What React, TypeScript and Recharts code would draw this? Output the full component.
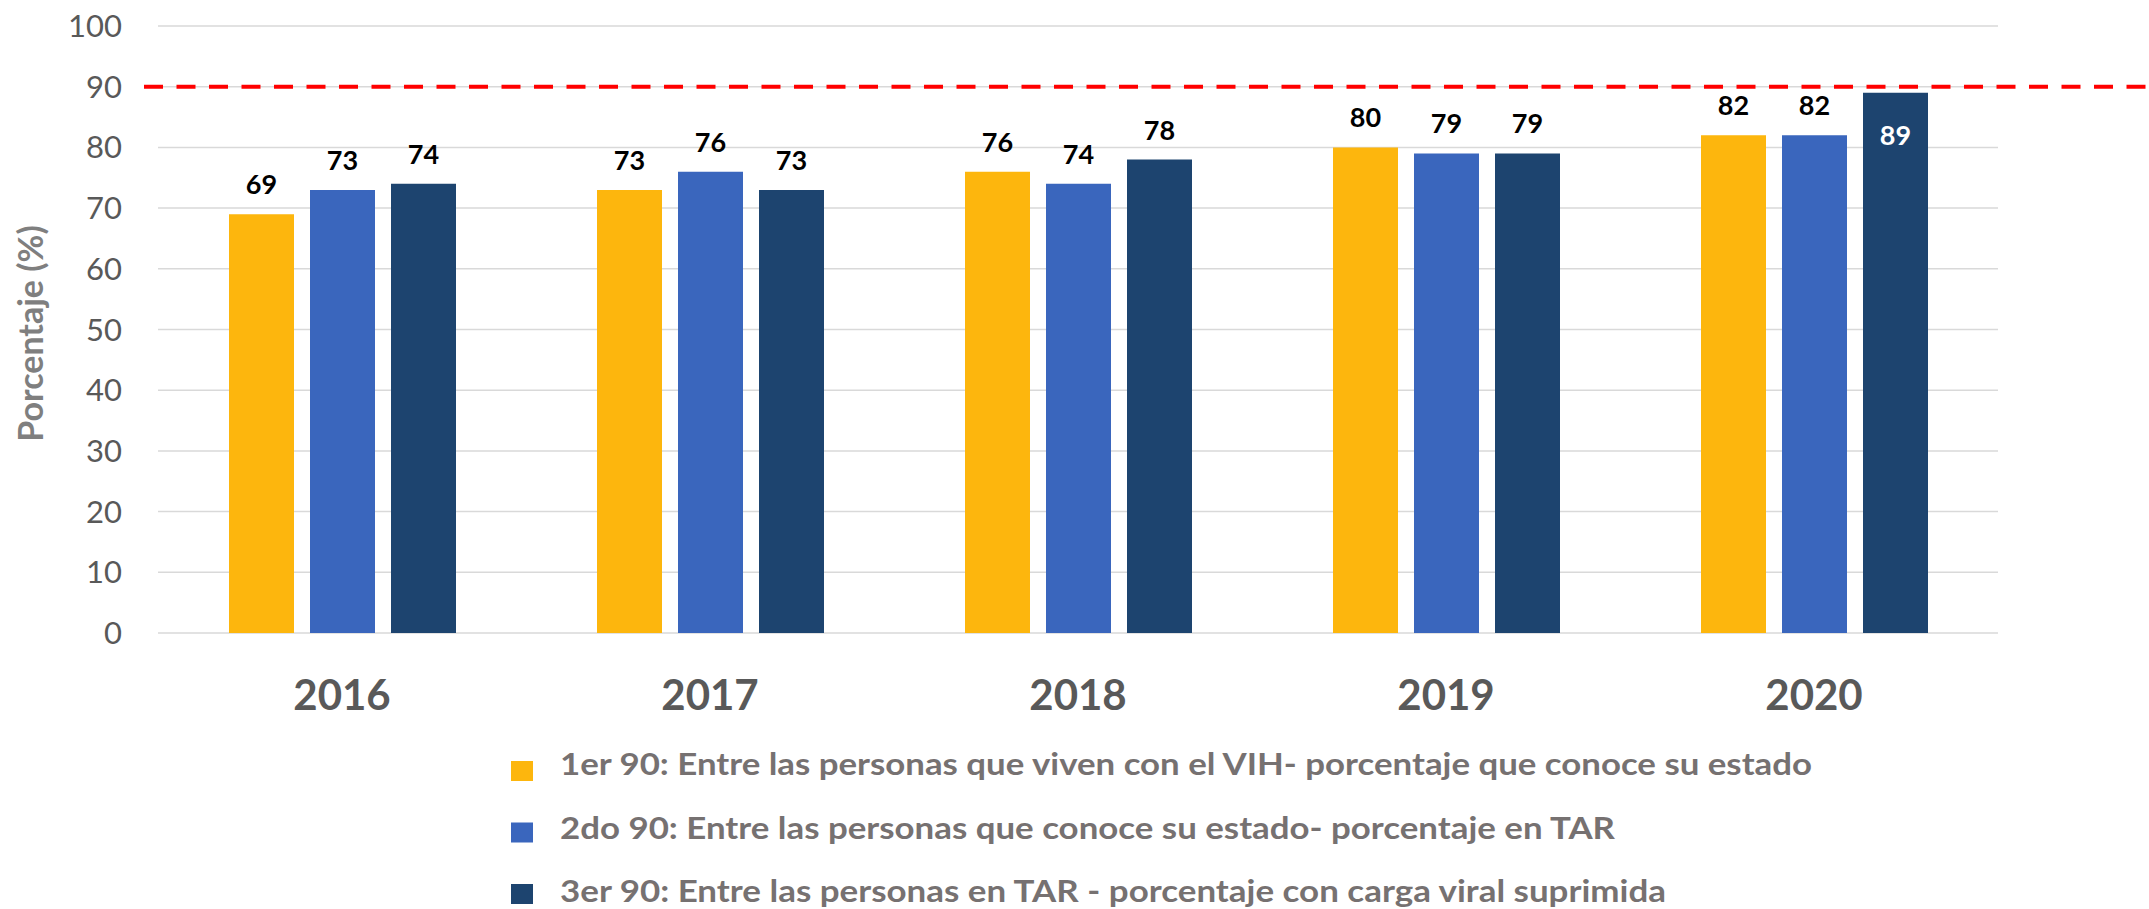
import React from "react";
import {
  BarChart,
  Bar,
  XAxis,
  YAxis,
  CartesianGrid,
  ReferenceLine,
  LabelList,
  Legend,
} from "recharts";

const CHART_WIDTH = 2149;
const CHART_HEIGHT = 909;

// datos
const years = ["2016", "2017", "2018", "2019", "2020"];
const primer90 = [69, 73, 76, 80, 82];
const segundo90 = [73, 76, 74, 79, 82];
const tercer90 = [74, 73, 78, 79, 89];
const yTicks = [0, 10, 20, 30, 40, 50, 60, 70, 80, 90, 100];
const meta = 90;
const seriesNames = [
  "1er 90: Entre las personas que viven con el VIH- porcentaje que conoce su estado",
  "2do 90: Entre las personas que conoce su estado- porcentaje en TAR",
  "3er 90: Entre las personas en TAR - porcentaje con carga viral suprimida",
];

const data = years.map((year, i) => ({
  year,
  primer: primer90[i],
  segundo: segundo90[i],
  tercer: tercer90[i],
}));

const COLORS = ["#FDB60D", "#3A66BD", "#1D446F"];
const LEGEND_TEXT_WIDTHS = [1252, 1055, 1106];

const renderValueLabel = (props: any) => {
  const { x, y, width, value } = props;
  const inside = Number(value) >= 85; // too close to the 90 line: Excel puts it inside
  const cx = Number(x) + Number(width) / 2;
  return (
    <text
      x={cx}
      y={inside ? Number(y) + 52 : Number(y) - 20}
      textAnchor="middle"
      fontSize={27}
      fontWeight={700}
      fill={inside ? "#ffffff" : "#000000"}
    >
      {value}
    </text>
  );
};

const renderLegend = (props: any) => {
  const payload = props.payload || [];
  return (
    <svg width={CHART_WIDTH} height={169} style={{ display: "block" }}>
      {payload.map((entry: any, i: number) => {
        const cy = 31 + i * 61.5;
        return (
          <g key={entry.value}>
            <rect x={511} y={cy - 10} width={22} height={20} fill={entry.color} />
            <text
              x={560}
              y={35 + i * 63.5}
              fontSize={30}
              fontWeight={700}
              fill="#767171"
              textLength={LEGEND_TEXT_WIDTHS[i]}
              lengthAdjust="spacingAndGlyphs"
            >
              {entry.value}
            </text>
          </g>
        );
      })}
    </svg>
  );
};

const renderYLabel = (props: any) => {
  const vb = props.viewBox || { y: 26, height: 607 };
  const cy = vb.y + vb.height / 2 + 4;
  return (
    <text
      transform={`translate(43, ${cy}) rotate(-90)`}
      textAnchor="middle"
      fontSize={34}
      fontWeight={700}
      fill="#7F7F7F"
    >
      Porcentaje (%)
    </text>
  );
};

export default function App() {
  return (
    <div style={{ width: CHART_WIDTH, height: CHART_HEIGHT, fontFamily: "Lato, sans-serif", background: "#fff" }}>
      <style>{`body{margin:0}`}</style>
      <BarChart
        width={CHART_WIDTH}
        height={CHART_HEIGHT}
        data={data}
        margin={{ top: 26, right: 151, left: 0, bottom: 0 }}
        barSize={65}
        barGap={16}
      >
        <CartesianGrid vertical={false} stroke="#D9D9D9" strokeWidth={1.5} />
        <XAxis
          dataKey="year"
          height={276}
          axisLine={false}
          tickLine={false}
          tickSize={0}
          tickMargin={47}
          tick={{ fontSize: 42, fontWeight: 700, fill: "#595959" }}
        />
        <YAxis
          width={158}
          domain={[0, 100]}
          ticks={yTicks}
          axisLine={false}
          tickLine={false}
          tickSize={0}
          tickMargin={36}
          tick={{ fontSize: 31, fill: "#595959" }}
          label={{ content: renderYLabel }}
        />
        <Legend
          layout="vertical"
          align="center"
          verticalAlign="middle"
          wrapperStyle={{ left: 0, top: 740, width: CHART_WIDTH }}
          content={renderLegend}
        />
        <Bar dataKey="primer" name={seriesNames[0]} fill={COLORS[0]} isAnimationActive={false}>
          <LabelList dataKey="primer" content={renderValueLabel} />
        </Bar>
        <Bar dataKey="segundo" name={seriesNames[1]} fill={COLORS[1]} isAnimationActive={false}>
          <LabelList dataKey="segundo" content={renderValueLabel} />
        </Bar>
        <Bar dataKey="tercer" name={seriesNames[2]} fill={COLORS[2]} isAnimationActive={false}>
          <LabelList dataKey="tercer" content={renderValueLabel} />
        </Bar>
        <ReferenceLine
          y={meta}
          shape={(p: any) => (
            <line
              x1={(p.x1 ?? 158) - 14}
              y1={p.y1}
              x2={CHART_WIDTH}
              y2={p.y2}
              stroke="#FF0000"
              strokeWidth={4}
              strokeDasharray="19 13.5"
            />
          )}
        />
      </BarChart>
    </div>
  );
}
